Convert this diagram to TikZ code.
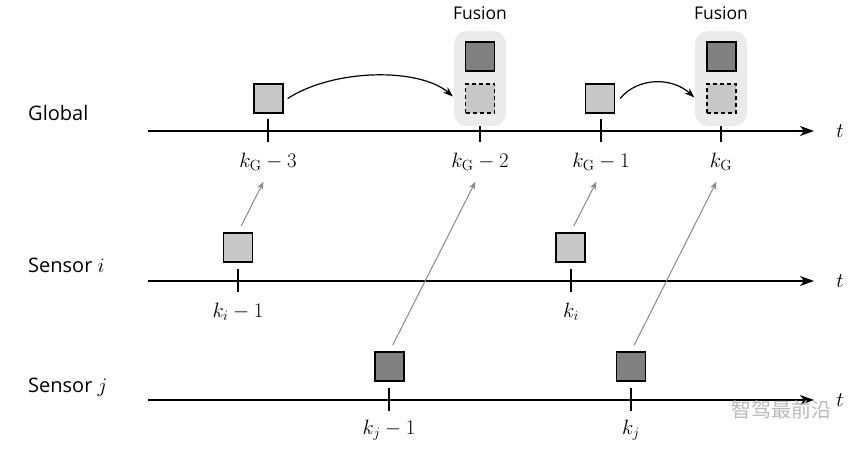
\documentclass[tikz,border=0pt]{standalone}
\usepackage{fontspec}
\newfontfamily\cjk{Noto Sans CJK SC}
\newfontfamily\labfont{Open Sans}
\usetikzlibrary{arrows.meta,calc}
\definecolor{boxlight}{HTML}{C8C8C8}
\definecolor{boxdark}{HTML}{808080}
\definecolor{cfuse}{HTML}{EBEBEB}
\definecolor{arrowgray}{HTML}{8A8A8A}
\begin{document}
\begin{tikzpicture}[x=1pt,y=-1pt,
  lab/.style={font=\fontsize{21}{25}\selectfont, inner sep=2pt},
  sidelab/.style={font=\fontsize{20}{25}\selectfont\labfont, inner sep=0pt, anchor=base west},
  fuselab/.style={font=\fontsize{17.5}{21}\selectfont\labfont, inner sep=0pt, anchor=base},
  axisline/.style={line width=1.3pt,-{Stealth[length=14pt,width=10pt,inset=4pt]}},
  tickline/.style={line width=1.3pt},
  lbox/.style={draw=black,line width=1.2pt,fill=boxlight,minimum size=29pt,inner sep=0pt},
  dbox/.style={lbox,fill=boxdark},
  fbox/.style={lbox,dash pattern=on 4pt off 3pt},
  fusebox/.style={fill=cfuse, rounded corners=13pt, minimum width=52pt, minimum height=95pt, inner sep=0pt},
  garrow/.style={draw=arrowgray, line width=1pt, -{Stealth[length=8pt,width=6pt]}, shorten <=7pt, shorten >=10pt},
  carrow/.style={line width=1.2pt,-{Stealth[length=10pt,width=7pt]}},
]
\useasboundingbox (0,0) rectangle (868,448);

% side labels
\node[sidelab] (lglobal) at (28,120) {Global};
\node[sidelab] (lsi) at (28,272) {Sensor {\fontsize{21}{25}\selectfont$i$}};
\node[sidelab] (lsj) at (28,392) {Sensor {\fontsize{21}{25}\selectfont$j$}};

% axes
\coordinate (ga0) at (148,131); \coordinate (ga1) at (814,131);
\coordinate (ia0) at (148,281); \coordinate (ia1) at (814,281);
\coordinate (ja0) at (148,400); \coordinate (ja1) at (814,400);
\draw[axisline] (ga0) -- (ga1);
\draw[axisline] (ia0) -- (ia1);
\draw[axisline] (ja0) -- (ja1);
\node[lab,anchor=base] (gt) at (840,137) {$t$};
\node[lab,anchor=base] (it) at (840,287) {$t$};
\node[lab,anchor=base] (jt) at (840,406) {$t$};

% ticks global
\coordinate (gk3a) at (268,119); \coordinate (gk3b) at (268,142);
\coordinate (gk2a) at (480,119); \coordinate (gk2b) at (480,142);
\coordinate (gk1a) at (601,119); \coordinate (gk1b) at (601,142);
\coordinate (gk0a) at (721,119); \coordinate (gk0b) at (721,142);
\draw[tickline] (gk3a) -- (gk3b);
\draw[tickline] (gk2a) -- (gk2b);
\draw[tickline] (gk1a) -- (gk1b);
\draw[tickline] (gk0a) -- (gk0b);
% ticks sensor i
\coordinate (ik1a) at (238,269); \coordinate (ik1b) at (238,292);
\coordinate (ik0a) at (571,269); \coordinate (ik0b) at (571,292);
\draw[tickline] (ik1a) -- (ik1b);
\draw[tickline] (ik0a) -- (ik0b);
% ticks sensor j
\coordinate (jk1a) at (389,388); \coordinate (jk1b) at (389,411);
\coordinate (jk0a) at (631,388); \coordinate (jk0b) at (631,411);
\draw[tickline] (jk1a) -- (jk1b);
\draw[tickline] (jk0a) -- (jk0b);

% tick labels
\node[lab,anchor=base] (lg3) at (268,167) {$k_{\mathrm{G}}-3$};
\node[lab,anchor=base] (lg2) at (480,167) {$k_{\mathrm{G}}-2$};
\node[lab,anchor=base] (lg1) at (601,167) {$k_{\mathrm{G}}-1$};
\node[lab,anchor=base] (lg0) at (721,167) {$k_{\mathrm{G}}$};
\node[lab,anchor=base] (li1) at (238,317) {$k_i-1$};
\node[lab,anchor=base] (li0) at (571,317) {$k_i$};
\node[lab,anchor=base] (lj1) at (389,434) {$k_j-1$};
\node[lab,anchor=base] (lj0) at (631,434) {$k_j$};

% fusion groups
\node[fusebox] (fbg1) at (480,78.5) {};
\node[fusebox] (fbg2) at (721,78.5) {};
\node[fuselab] (fl1) at (480,19) {Fusion};
\node[fuselab] (fl2) at (721,19) {Fusion};
\node[dbox] (fd1) at (480,56.5) {};
\node[fbox] (fp1) at (480,98.5) {};
\node[dbox] (fd2) at (721.5,56.5) {};
\node[fbox] (fp2) at (721.5,98.5) {};

% global boxes
\node[lbox] (gb3) at (268.5,98.5) {};
\node[lbox] (gb1) at (600,98.5) {};
% sensor i boxes
\node[lbox] (sib1) at (238,247.5) {};
\node[lbox] (sib0) at (570.5,247.5) {};
% sensor j boxes
\node[dbox] (sjb1) at (389.5,366.5) {};
\node[dbox] (sjb0) at (631,366.5) {};

% gray arrows
\draw[garrow] (sib1.north) -- (lg3.south);
\draw[garrow] (sib0.north) -- (lg1.south);
\draw[garrow] (sjb1.north) -- (lg2.south);
\draw[garrow] (sjb0.north) -- (lg0.south);

% curved arrows
\draw[carrow] ($(gb3.east)+(4,0)$) .. controls (335,68) and (420,68) .. ($(fp1.west)+(-12,-2)$);
\draw[carrow] ($(gb1.east)+(5,0)$) .. controls (638,77) and (672,77) .. ($(fp2.west)+(-12,-1)$);

% watermark
\node[font=\cjk\fontsize{20}{24}\selectfont, text=gray!55, inner sep=0pt] (wm) at (781,410) {智驾最前沿};
\end{tikzpicture}
\end{document}
